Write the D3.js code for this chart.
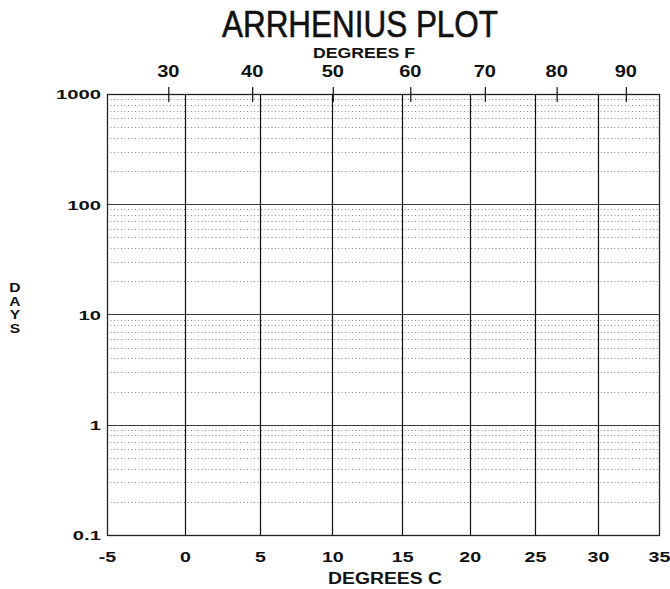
<!DOCTYPE html>
<html>
<head>
<meta charset="utf-8">
<script src="https://cdn.jsdelivr.net/npm/d3@7"></script>
<style>
  html, body { margin: 0; padding: 0; background: #fff; }
  svg { display: block; }
  text { font-family: "Liberation Sans", Arial, sans-serif; fill: #111; }
</style>
</head>
<body>
<svg id="chart" width="670" height="589"></svg>
<script>
// ---- data ----
const celsiusTicks = [-5, 0, 5, 10, 15, 20, 25, 30, 35];
const gridCelsius = [0, 5, 10, 15, 20, 25, 30];
const fahrenheitTicks = [30, 40, 50, 60, 70, 80, 90];
const dayTicks = [0.1, 1, 10, 100, 1000];
const dayTickLabels = ["0.1", "1", "10", "100", "1000"];
const majorDays = [1, 10, 100];
const decadeStarts = [0.1, 1, 10, 100];
const minorMultipliers = [2, 3, 4, 5, 6, 7, 8, 9];
const yLetters = ["D", "A", "Y", "S"];

const K = 273.15;
const invC = c => 1 / (c + K);
const invF = f => 1 / ((f - 32) * 5 / 9 + K);

const svg = d3.select("#chart");
const plotL = 107, plotR = 659, plotT = 94, plotB = 535;

const x = d3.scaleLinear().domain([invC(-5), invC(35)]).range([plotL, plotR]);
const y = d3.scaleLog().domain([0.1, 1000]).range([plotB, plotT]);
const px = v => Math.round(v) + 0.5;

function stretch(sel, factor) {
  sel.each(function () {
    const n = this.getComputedTextLength();
    d3.select(this).attr("textLength", n * factor).attr("lengthAdjust", "spacingAndGlyphs");
  });
}

// minor dotted horizontal grid
const minorVals = [];
decadeStarts.forEach(d => minorMultipliers.forEach(m => minorVals.push(d * m)));
svg.append("g").selectAll("line").data(minorVals).join("line")
  .attr("x1", plotL).attr("x2", plotR)
  .attr("y1", d => px(y(d))).attr("y2", d => px(y(d)))
  .attr("stroke", "#8a8a8a").attr("stroke-width", 1).attr("stroke-dasharray", "1,2.5");

// major horizontal grid
svg.append("g").selectAll("line").data(majorDays).join("line")
  .attr("x1", plotL).attr("x2", plotR)
  .attr("y1", d => px(y(d))).attr("y2", d => px(y(d)))
  .attr("stroke", "#3a3a3a").attr("stroke-width", 1.1);

// vertical grid
svg.append("g").selectAll("line").data(gridCelsius).join("line")
  .attr("x1", d => px(x(invC(d)))).attr("x2", d => px(x(invC(d))))
  .attr("y1", plotT).attr("y2", plotB)
  .attr("stroke", "#111").attr("stroke-width", 1.2);

// border
svg.append("rect").attr("x", plotL + 0.5).attr("y", plotT + 0.5)
  .attr("width", plotR - plotL).attr("height", plotB - plotT)
  .attr("fill", "none").attr("stroke", "#222").attr("stroke-width", 1.3);

// bottom axis (Celsius)
const axB = svg.append("g").attr("transform", `translate(0,${plotB})`)
  .call(d3.axisBottom(x).tickValues(celsiusTicks.map(invC))
    .tickFormat(v => String(Math.round(1 / v - K))).tickSize(0).tickPadding(0));
axB.select(".domain").remove();
axB.selectAll("text").attr("y", 27).attr("dy", null)
  .style("font-size", "14px").style("font-weight", "bold").attr("fill", "#111");
stretch(axB.selectAll("text"), 1.4);

// top axis (Fahrenheit)
const axT = svg.append("g").attr("transform", `translate(0,${plotT})`)
  .call(d3.axisTop(x).tickValues(fahrenheitTicks.map(invF))
    .tickFormat(v => String(Math.round((1 / v - K) * 9 / 5 + 32))).tickSize(0).tickPadding(0));
axT.select(".domain").remove();
axT.selectAll("text").attr("y", -17).attr("dy", null)
  .style("font-size", "16px").style("font-weight", "bold").attr("fill", "#111");
stretch(axT.selectAll("text"), 1.25);
axT.selectAll(".tick").append("line")
  .attr("x1", 0.5).attr("x2", 0.5).attr("y1", -7).attr("y2", 8)
  .attr("stroke", "#111").attr("stroke-width", 1.2);

// left axis (days)
const axL = svg.append("g").attr("transform", `translate(${plotL},0)`)
  .call(d3.axisLeft(y).tickValues(dayTicks).tickFormat((d, i) => dayTickLabels[i])
    .tickSize(0).tickPadding(6));
axL.select(".domain").remove();
axL.selectAll("text").attr("dy", "0.36em")
  .style("font-size", "13.5px").style("font-weight", "bold").attr("fill", "#111");
stretch(axL.selectAll("text"), 1.5);

// titles
svg.append("text").attr("x", 360).attr("y", 37).attr("text-anchor", "middle")
  .style("font-size", "37px").attr("stroke", "#111").attr("stroke-width", 0.6)
  .attr("textLength", 276).attr("lengthAdjust", "spacingAndGlyphs").text("ARRHENIUS PLOT");

svg.append("text").attr("x", 364).attr("y", 58).attr("text-anchor", "middle")
  .style("font-size", "15px").style("font-weight", "bold")
  .attr("textLength", 102).attr("lengthAdjust", "spacingAndGlyphs").text("DEGREES F");

svg.append("text").attr("x", 385).attr("y", 584).attr("text-anchor", "middle")
  .style("font-size", "16px").style("font-weight", "bold")
  .attr("textLength", 114).attr("lengthAdjust", "spacingAndGlyphs").text("DEGREES C");

// vertical stacked "DAYS"
const dl = svg.append("g").selectAll("text").data(yLetters).join("text")
  .attr("x", 15).attr("y", (d, i) => 292 + i * 13.5).attr("text-anchor", "middle")
  .style("font-size", "12px").style("font-weight", "bold").text(d => d);
stretch(dl, 1.3);
</script>
</body>
</html>
